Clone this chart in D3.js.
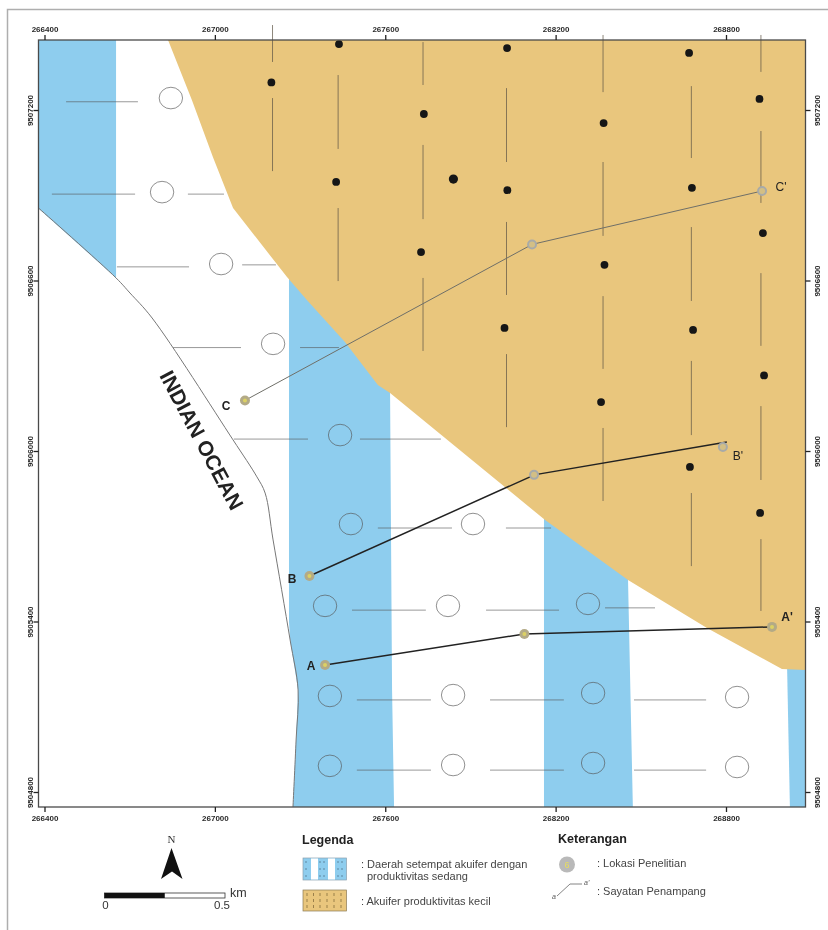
<!DOCTYPE html>
<html>
<head>
<meta charset="utf-8">
<script src="https://cdn.jsdelivr.net/npm/d3@7"></script>
<style>
    html, body { margin: 0; padding: 0; background: #fff; }
    svg { display: block; font-family: "Liberation Sans", Arial, sans-serif; filter: blur(0.3px); }
    .axis line { stroke: #222; stroke-width: 1.3; }
    .axis text { font-size: 8px; font-weight: bold; fill: #2a2a2a; font-family: "Liberation Sans", Arial, sans-serif; }
</style>
</head>
<body>
<svg id="map" width="828" height="930"></svg>
<script>
"use strict"

const eastTicks = [266400, 267000, 267600, 268200, 268800]
const northTicks = [9507200, 9506600, 9506000, 9505400, 9504800]

const coastLine = [
    [266379, 9506855], [266652, 9506609], [266701, 9506556], [266779, 9506468],
    [267064, 9506039], [267148, 9505909], [267177, 9505852], [267205, 9505687],
    [267265, 9505335], [267293, 9505159], [267286, 9504983], [267275, 9504747]
]

const orangeArea = [
    [266835, 9507446], [266919, 9507235], [266993, 9507035], [267064, 9506855],
    [267254, 9506612], [267324, 9506531], [267458, 9506384], [267574, 9506232],
    [267617, 9506204], [268163, 9505757], [268455, 9505546], [268733, 9505377],
    [268997, 9505233], [269080, 9505229], [269080, 9507446]
]

const blueAreas = [
    [[266377, 9507446], [266652, 9507446], [266652, 9506609], [266377, 9506855]],
    [[267261, 9506605], [267617, 9506605], [267617, 9506204], [267624, 9505159], [267631, 9504747],
     [267275, 9504747], [267286, 9504983], [267293, 9505159], [267265, 9505335], [267261, 9505400]],
    [[268159, 9505792], [268455, 9505792], [268455, 9505546], [268472, 9504747], [268159, 9504747]],
    [[269015, 9505247], [269080, 9505247], [269080, 9504747], [269025, 9504747]]
]

const patternCircles = [
    [266845, 9507242], [266814, 9506911], [267022, 9506658], [267205, 9506377],
    [267441, 9506056], [267479, 9505743], [267909, 9505743], [267388, 9505455],
    [267821, 9505455], [268314, 9505462], [267405, 9505138], [267839, 9505141],
    [268332, 9505148], [268839, 9505134], [267405, 9504892], [267839, 9504895],
    [268332, 9504902], [268839, 9504888]
]

// [east start, east end, northing]
const patternDashes = [
    [266476, 266729, 9507229], [266426, 266719, 9506904], [266905, 267032, 9506904],
    [266655, 266909, 9506648], [267096, 267215, 9506655], [266853, 267092, 9506364],
    [267300, 267437, 9506364], [267067, 267328, 9506042], [267511, 267796, 9506042],
    [267574, 267835, 9505729], [268025, 268184, 9505729], [267483, 267743, 9505440],
    [267955, 268212, 9505440], [268374, 268550, 9505448], [267500, 267761, 9505124],
    [267969, 268229, 9505124], [268476, 268730, 9505124], [267500, 267761, 9504877],
    [267969, 268229, 9504877], [268476, 268730, 9504877]
]

// [easting, north top, north bottom]
const orangeDashes = [
    [267203, 9507499, 9507369], [267203, 9507242, 9506985],
    [267434, 9507323, 9507063], [267434, 9506855, 9506598],
    [267733, 9507439, 9507288], [267733, 9507077, 9506816], [267733, 9506609, 9506352],
    [268027, 9507277, 9507017], [268027, 9506806, 9506549], [268027, 9506341, 9506084],
    [268367, 9507464, 9507263], [268367, 9507017, 9506757], [268367, 9506545, 9506289], [268367, 9506081, 9505824],
    [268678, 9507284, 9507031], [268678, 9506788, 9506528], [268678, 9506317, 9506056], [268678, 9505852, 9505595],
    [268923, 9507464, 9507334], [268923, 9507126, 9506873], [268923, 9506626, 9506370],
    [268923, 9506158, 9505898], [268923, 9505690, 9505437]
]

const wells = [
    [267437, 9507432], [267199, 9507297], [267427, 9506947], [267736, 9507186],
    [268029, 9507418], [268670, 9507401], [268918, 9507239], [268369, 9507154],
    [267840, 9506957], [268030, 9506918], [268680, 9506926], [267726, 9506700],
    [268930, 9506767], [268372, 9506655], [268020, 9506433], [268684, 9506426],
    [268934, 9506266], [268360, 9506172], [268673, 9505944], [268920, 9505782]
]

const sectionA = [[267388, 9505247], [268090, 9505356], [268962, 9505381]]
const sectionB = [[267333, 9505560], [268110, 9505909], [268124, 9505916], [268803, 9506032]]
const sectionC = [[267106, 9506178], [268117, 9506727], [268927, 9506915]]

const stationsWarm = [[267388, 9505247], [268090, 9505356], [268962, 9505381], [267333, 9505560], [267106, 9506178]]
const stationsCool = [[268124, 9505916], [268789, 9506014], [268117, 9506727], [268927, 9506915]]

const scaleKm = [0, 0.25, 0.5]

const svg = d3.select("#map")

const margin = { top: 40, right: 805.5, bottom: 807, left: 38.5 }

const x = d3.scaleLinear().domain([266400, 268800]).range([44.5, 726])
const y = d3.scaleLinear().domain([9507200, 9504800]).range([110, 792])

const path = d3.line().x(d => x(d[0])).y(d => y(d[1]))
const coastPath = d3.line().x(d => x(d[0])).y(d => y(d[1])).curve(d3.curveCatmullRom)
const area = d3.line().x(d => x(d[0])).y(d => y(d[1])).curve(d3.curveLinearClosed)

// sheet edge
svg.append("path")
    .attr("d", "M7.5,930V9.5H828")
    .attr("fill", "none")
    .attr("stroke", "#aeaeae")
    .attr("stroke-width", 1.5)

const map = svg.append("g")

map.selectAll(".blue")
    .data(blueAreas)
    .enter().append("path")
        .attr("class", "blue")
        .attr("d", area)
        .attr("fill", "#8ecdee")

map.append("path")
    .attr("d", area(orangeArea))
    .attr("fill", "#e9c67d")

map.append("path")
    .attr("d", coastPath(coastLine))
    .attr("fill", "none")
    .attr("stroke", "#777")
    .attr("stroke-width", 1)

map.selectAll(".hdash")
    .data(patternDashes)
    .enter().append("line")
        .attr("class", "hdash")
        .attr("x1", d => x(d[0]))
        .attr("x2", d => x(d[1]))
        .attr("y1", d => y(d[2]))
        .attr("y2", d => y(d[2]))
        .attr("stroke", "#555")
        .attr("stroke-opacity", 0.6)
        .attr("stroke-width", 1)

map.selectAll(".ring")
    .data(patternCircles)
    .enter().append("ellipse")
        .attr("class", "ring")
        .attr("cx", d => x(d[0]))
        .attr("cy", d => y(d[1]))
        .attr("rx", 11.7)
        .attr("ry", 10.8)
        .attr("fill", "none")
        .attr("stroke", "#555")
        .attr("stroke-opacity", 0.65)
        .attr("stroke-width", 1)

map.selectAll(".vdash")
    .data(orangeDashes)
    .enter().append("line")
        .attr("class", "vdash")
        .attr("x1", d => x(d[0]))
        .attr("x2", d => x(d[0]))
        .attr("y1", d => y(d[1]))
        .attr("y2", d => y(d[2]))
        .attr("stroke", "#5b5344")
        .attr("stroke-opacity", 0.7)
        .attr("stroke-width", 1)

map.selectAll(".well")
    .data(wells)
    .enter().append("circle")
        .attr("class", "well")
        .attr("cx", d => x(d[0]))
        .attr("cy", d => y(d[1]))
        .attr("r", (d, i) => i === 8 ? 4.6 : 3.9)
        .attr("fill", "#161616")

// section lines, C is drawn thin
map.append("path").attr("d", path(sectionC)).attr("fill", "none").attr("stroke", "#6f6f68").attr("stroke-width", 1)
map.append("path").attr("d", path(sectionA)).attr("fill", "none").attr("stroke", "#222").attr("stroke-width", 1.5)
map.append("path").attr("d", path(sectionB)).attr("fill", "none").attr("stroke", "#222").attr("stroke-width", 1.5)

map.selectAll(".stationWarm")
    .data(stationsWarm)
    .enter().append("circle")
        .attr("class", "stationWarm")
        .attr("cx", d => x(d[0]))
        .attr("cy", d => y(d[1]))
        .attr("r", 5)
        .attr("fill", "#b3aa86")
map.selectAll(".stationWarmDot")
    .data(stationsWarm)
    .enter().append("circle")
        .attr("class", "stationWarmDot")
        .attr("cx", d => x(d[0]))
        .attr("cy", d => y(d[1]))
        .attr("r", 2)
        .attr("fill", "#dcd164")

map.selectAll(".stationCool")
    .data(stationsCool)
    .enter().append("circle")
        .attr("class", "stationCool")
        .attr("cx", d => x(d[0]))
        .attr("cy", d => y(d[1]))
        .attr("r", 4)
        .attr("fill", "#d3bf85")
        .attr("stroke", "#a8aaa8")
        .attr("stroke-width", 2)

// section labels
const sectionLabels = [
    ["A", 311, 670], ["A'", 787, 621], ["B", 292, 583],
    ["B'", 738, 460], ["C", 226, 410], ["C'", 781, 191]
]
svg.selectAll(".secLabel")
    .data(sectionLabels)
    .enter().append("text")
        .attr("class", "secLabel")
        .attr("x", d => d[1])
        .attr("y", d => d[2])
        .attr("text-anchor", "middle")
        .attr("font-size", 12)
        .attr("font-weight", d => d[0] === "B'" || d[0] === "C'" ? "normal" : "bold")
        .attr("fill", "#222")
        .text(d => d[0])

svg.append("text")
    .attr("transform", "translate(200,441) rotate(62)")
    .attr("text-anchor", "middle")
    .attr("dominant-baseline", "middle")
    .attr("font-size", 21)
    .attr("font-weight", "bold")
    .attr("fill", "#222")
    .text("INDIAN OCEAN")

// frame with grid ticks
svg.append("rect")
    .attr("x", margin.left)
    .attr("y", margin.top)
    .attr("width", margin.right - margin.left)
    .attr("height", margin.bottom - margin.top)
    .attr("fill", "none")
    .attr("stroke", "#4a4a4a")
    .attr("stroke-width", 1.3)

const fmt = d3.format("d")

const topAxis = d3.axisTop(x).tickValues(eastTicks).tickFormat(fmt).tickSize(5).tickSizeOuter(0)
const bottomAxis = d3.axisBottom(x).tickValues(eastTicks).tickFormat(fmt).tickSize(5).tickSizeOuter(0)
const leftAxis = d3.axisLeft(y).tickValues(northTicks).tickFormat(fmt).tickSize(5).tickSizeOuter(0)
const rightAxis = d3.axisRight(y).tickValues(northTicks).tickFormat(fmt).tickSize(5).tickSizeOuter(0)

function addAxis(axis, tx, ty) {
    const g = svg.append("g")
        .attr("class", "axis")
        .attr("transform", "translate(" + tx + "," + ty + ")")
        .call(axis)
    g.select(".domain").remove()
    return g
}

addAxis(topAxis, 0, margin.top)
addAxis(bottomAxis, 0, margin.bottom)

addAxis(leftAxis, margin.left, 0).selectAll("text")
    .attr("transform", "rotate(-90)")
    .attr("x", 0)
    .attr("y", -6)
    .attr("dy", 0)
    .attr("text-anchor", "middle")

addAxis(rightAxis, margin.right, 0).selectAll("text")
    .attr("transform", "rotate(-90)")
    .attr("x", 0)
    .attr("y", 14)
    .attr("dy", 0)
    .attr("text-anchor", "middle")

// north arrow
svg.append("text")
    .attr("x", 171.5)
    .attr("y", 843)
    .attr("text-anchor", "middle")
    .attr("font-family", "Liberation Serif")
    .attr("font-size", 11)
    .attr("fill", "#333")
    .text("N")
svg.append("path")
    .attr("d", "M171.5,848L161,879L172,871.5L182.5,879Z")
    .attr("fill", "#111")

// scale bar
const km = d3.scaleLinear().domain([0, 0.5]).range([104.5, 225])
svg.append("rect")
    .attr("x", km(0)).attr("y", 893)
    .attr("width", km(scaleKm[2]) - km(0)).attr("height", 5)
    .attr("fill", "#fff").attr("stroke", "#333").attr("stroke-width", 0.8)
svg.append("rect")
    .attr("x", km(0)).attr("y", 893)
    .attr("width", km(scaleKm[1]) - km(0)).attr("height", 5)
    .attr("fill", "#111")
svg.append("text").attr("x", km(0) + 1).attr("y", 908.5).attr("text-anchor", "middle").attr("font-size", 11.5).attr("fill", "#333").text("0")
svg.append("text").attr("x", km(0.5) - 3).attr("y", 908.5).attr("text-anchor", "middle").attr("font-size", 11.5).attr("fill", "#333").text("0.5")
svg.append("text").attr("x", 230).attr("y", 897).attr("font-size", 12.5).attr("fill", "#333").text("km")

// legend
function legendText(tx, ty, str, size, bold) {
    svg.append("text")
        .attr("x", tx)
        .attr("y", ty)
        .attr("font-size", size)
        .attr("font-weight", bold ? "bold" : "normal")
        .attr("fill", bold ? "#222" : "#444")
        .text(str)
}

legendText(302, 844, "Legenda", 12.5, true)
legendText(361, 868, ": Daerah setempat akuifer dengan", 11, false)
legendText(367, 880, "produktivitas sedang", 11, false)
legendText(361, 905, ": Akuifer produktivitas kecil", 11, false)
legendText(558, 843, "Keterangan", 12.5, true)
legendText(597, 867, ": Lokasi Penelitian", 11, false)
legendText(597, 895, ": Sayatan Penampang", 11, false)

const blueKey = svg.append("g").attr("transform", "translate(303,858)")
blueKey.append("rect").attr("width", 43.5).attr("height", 22).attr("fill", "#8ecdee").attr("stroke", "#8aa0ae").attr("stroke-width", 0.7)
blueKey.selectAll(".gap")
    .data([8, 25])
    .enter().append("rect")
        .attr("class", "gap")
        .attr("x", d => d).attr("y", 0.5)
        .attr("width", 7).attr("height", 21)
        .attr("fill", "#fff")
const blueTicks = d3.cross([3, 17, 21, 35, 39], [4, 11, 18])
blueKey.selectAll(".tick")
    .data(blueTicks)
    .enter().append("line")
        .attr("class", "tick")
        .attr("x1", d => d[0] - 1).attr("x2", d => d[0] + 1)
        .attr("y1", d => d[1]).attr("y2", d => d[1])
        .attr("stroke", "#4b6c80").attr("stroke-width", 0.7)

const orangeKey = svg.append("g").attr("transform", "translate(303,890)")
orangeKey.append("rect").attr("width", 43.5).attr("height", 21).attr("fill", "#e9c67d").attr("stroke", "#8a7a55").attr("stroke-width", 0.7)
const orangeTicks = d3.cross([4, 10.5, 17, 24, 31, 38], [3, 9, 15])
orangeKey.selectAll(".tick")
    .data(orangeTicks)
    .enter().append("line")
        .attr("class", "tick")
        .attr("x1", d => d[0]).attr("x2", d => d[0])
        .attr("y1", d => d[1]).attr("y2", d => d[1] + 3)
        .attr("stroke", "#7a6235").attr("stroke-width", 0.7)

// keterangan symbols
svg.append("circle").attr("cx", 567).attr("cy", 864.5).attr("r", 8).attr("fill", "#b9b9b9")
svg.append("text").attr("x", 567).attr("y", 868).attr("text-anchor", "middle").attr("font-size", 9).attr("fill", "#e8dd5c").text("6")
svg.append("path")
    .attr("d", "M557,896L570,884H582")
    .attr("fill", "none")
    .attr("stroke", "#777")
    .attr("stroke-width", 0.9)
svg.append("text").attr("x", 552).attr("y", 899).attr("font-size", 7).attr("font-style", "italic").attr("fill", "#555").text("a")
svg.append("text").attr("x", 584).attr("y", 885).attr("font-size", 7).attr("font-style", "italic").attr("fill", "#555").text("a'")
</script>
</body>
</html>
